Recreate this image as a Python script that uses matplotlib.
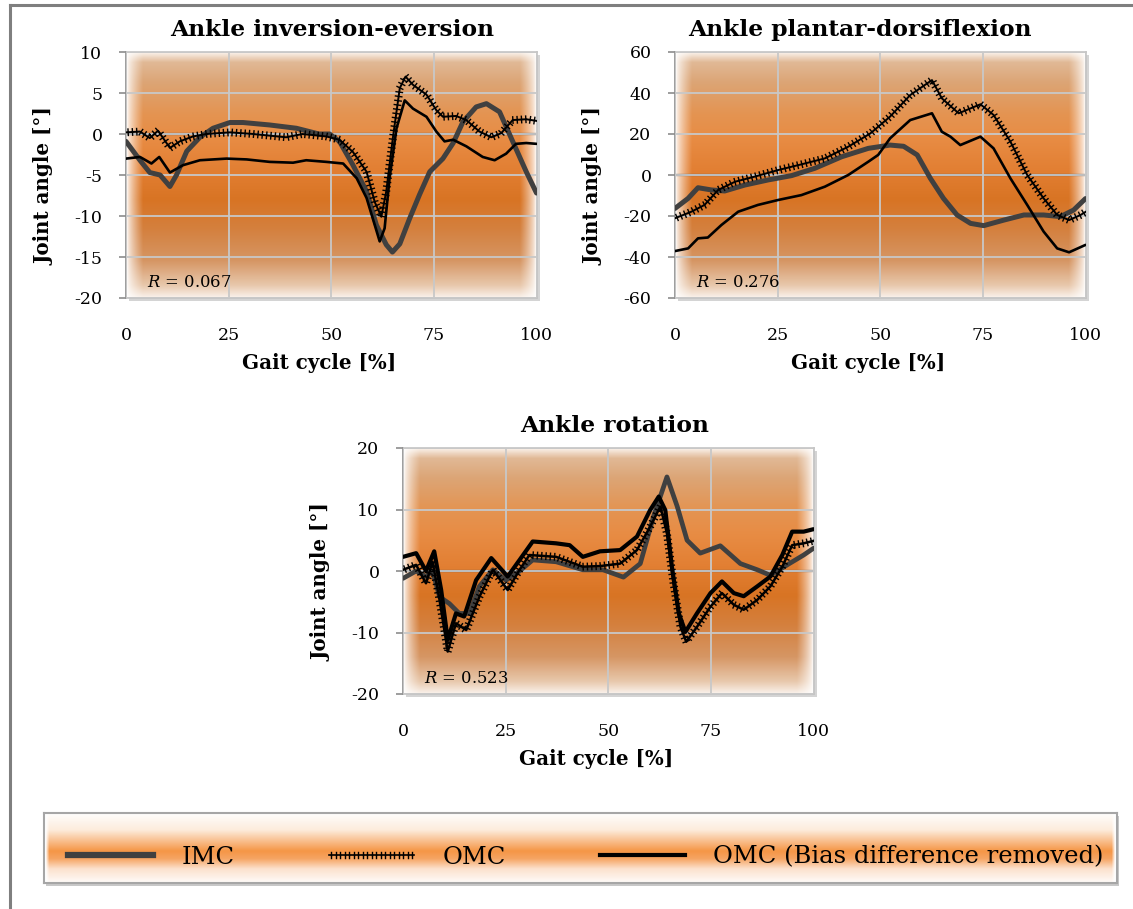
import numpy as np
import matplotlib
matplotlib.use("Agg")
import matplotlib.pyplot as plt
import matplotlib.patheffects as pe
from matplotlib.lines import Line2D
from matplotlib.patches import Rectangle

plt.rcParams["font.family"] = "DejaVu Serif"
plt.rcParams["mathtext.fontset"] = "dejavuserif"
plt.rcParams["axes.unicode_minus"] = False

# ---------------- dados ---------------- #

# Ankle inversion-eversion
inv_imc_x = [0, 3.4, 5.8, 8.3, 10.7, 12.3, 14.8, 18, 21.2, 25.3, 28.5, 35, 41.5, 47, 49.6, 52, 55.3, 58.6, 61,
             63.4, 64.9, 66.7, 69.1, 71.5, 74, 77.2, 79.7, 82.1, 85.3, 87.8, 91, 94.2, 97.5, 100]
inv_imc = [-0.9, -3.2, -4.7, -5.0, -6.4, -5.0, -2.1, -0.4, 0.7, 1.4, 1.4, 1.1, 0.7, 0.0, 0.0, -0.9, -3.8, -7.0,
           -11.1, -13.5, -14.4, -13.4, -10.3, -7.4, -4.6, -3.0, -1.1, 1.5, 3.3, 3.7, 2.7, -0.9, -4.6, -7.2]
inv_omc_x = [0, 3.4, 5.8, 7.8, 10.7, 13.1, 16.3, 19.6, 25.3, 31, 39, 43, 48.8, 52, 55.3, 58.6, 60.6, 62.2, 63.4,
             65, 66.7, 68.1, 69.9, 73.2, 75.6, 77.2, 80.4, 82.9, 86.1, 89, 91.4, 94.2, 97.5, 100]
inv_omc = [0.2, 0.3, -0.5, 0.4, -1.7, -0.9, -0.3, 0.0, 0.2, 0.0, -0.4, 0.0, -0.3, -0.7, -2.2, -4.6, -8.3, -10.1,
           -7.0, -0.5, 5.6, 7.0, 6.0, 4.8, 2.9, 2.1, 2.2, 1.7, 0.3, -0.4, 0.1, 1.7, 1.8, 1.6]
inv_bias_x = [0, 3.4, 6.2, 8.1, 10.7, 13.9, 18, 24.5, 29.4, 35, 40.7, 43.9, 48.8, 52.9, 56.2, 58.6, 60.6, 61.8,
              63, 64.2, 65.9, 67.9, 69.9, 73.2, 75.6, 77.6, 79.7, 82.9, 86.9, 89.8, 92.6, 95, 97.5, 100]
inv_bias = [-3.0, -2.8, -3.6, -2.8, -4.7, -3.8, -3.2, -3.0, -3.1, -3.4, -3.5, -3.2, -3.4, -3.6, -5.4, -7.8,
            -11.1, -13.1, -11.5, -5.4, 0.7, 4.1, 3.1, 2.1, 0.3, -0.9, -0.7, -1.5, -2.8, -3.2, -2.4, -1.2, -1.1, -1.2]

# Ankle plantar-dorsiflexion
pd_imc_x = [0, 3.2, 5.6, 8.9, 12.1, 17, 22.7, 28.4, 34.1, 40.6, 47.1, 52.4, 55.7, 59, 62.2, 65.4, 68.7, 72,
            75.2, 80.1, 85, 89.8, 93.9, 97.1, 100]
pd_imc = [-16.3, -11.4, -6.2, -7.3, -7.8, -4.9, -2.4, -0.3, 3.3, 8.9, 13.0, 14.6, 14.0, 9.8, -1.6, -11.4,
          -19.5, -23.6, -24.7, -22.0, -19.5, -19.5, -20.3, -17.1, -11.5]
pd_omc_x = [0, 4, 7.2, 10.5, 14.6, 19.4, 25.1, 30.8, 36.5, 42.2, 47.6, 52.4, 57.3, 62.6, 65, 69.1, 72, 74.4,
            77.6, 81.7, 85.8, 89.8, 93.1, 96, 98.8, 100]
pd_omc = [-21.1, -17.9, -14.6, -7.3, -3.3, -0.8, 2.4, 5.2, 8.1, 13.8, 20.3, 28.5, 39.0, 46.3, 37.4, 30.1, 32.5,
          34.5, 29.3, 16.3, 0.0, -11.4, -19.5, -22.0, -19.5, -18.0]
pd_bias_x = [0, 3.2, 5.6, 8, 11.3, 15.4, 20.2, 25.1, 30.8, 36.5, 42.2, 47.1, 49.5, 52.4, 57.3, 62.6, 65, 67.1,
             69.5, 74.4, 77.6, 81.7, 85.8, 89.8, 93.1, 96, 100]
pd_bias = [-37.1, -35.8, -30.9, -30.5, -24.4, -17.9, -14.6, -12.2, -9.8, -5.7, 0.0, 6.5, 9.8, 17.9, 26.8, 30.1,
           21.1, 18.7, 14.6, 18.7, 13.0, -1.6, -14.6, -27.6, -35.8, -37.7, -34.1]

# Ankle rotation
rot_imc_x = [0, 3.2, 5.6, 7.2, 8.9, 11.3, 13.7, 16.2, 18.6, 21.9, 25.1, 28.4, 31.6, 37.3, 43.8, 48.7, 53.7,
             57.8, 61, 64.3, 66.8, 69.2, 72.4, 77.3, 82.2, 86.3, 89.5, 93.6, 97.6, 100]
rot_imc = [-1.2, 0.0, -0.9, 0.0, -4.2, -5.3, -6.9, -6.9, -2.5, 0.2, -1.5, 0.0, 1.8, 1.5, 0.2, 0.2, -1.0, 1.2,
           8.8, 15.3, 10.5, 5.0, 2.9, 4.1, 1.2, 0.2, -0.7, 1.0, 2.6, 3.7]
rot_omc_x = [0, 3.2, 5.6, 7.2, 8.9, 10.9, 12.9, 15.4, 18.6, 21.9, 25.5, 28.4, 30.8, 37.3, 43.8, 48, 52.9, 57,
             60.2, 62.7, 64.3, 65.9, 67.6, 69, 71.6, 74.9, 77.7, 80.6, 83, 86.3, 89.5, 92.4, 94.8, 97.6, 100]
rot_omc = [0.2, 1.0, -2.0, 1.5, -4.7, -13.1, -8.5, -9.6, -4.2, 0.2, -3.1, 0.2, 2.6, 2.3, 0.7, 0.8, 1.2, 3.4,
           7.2, 10.5, 6.1, -2.0, -9.1, -11.5, -9.1, -5.8, -3.6, -5.5, -6.3, -4.7, -2.5, 0.7, 4.2, 4.5, 4.9]
rot_bias_x = [0, 3.2, 5.6, 7.6, 9.3, 10.9, 12.9, 14.9, 17.8, 21.5, 25.5, 28.4, 31.6, 37.3, 40.6, 43.8, 48,
              52.9, 57, 60.2, 62.3, 63.9, 65.5, 67.2, 68.8, 71.6, 74.9, 77.7, 80.6, 83, 86.3, 89.5, 92.4, 94.8,
              97.6, 100]
rot_bias = [2.3, 2.9, 0.0, 3.2, -3.1, -11.2, -6.9, -7.4, -1.5, 2.1, -0.9, 1.8, 4.8, 4.5, 4.2, 2.3, 3.2, 3.4,
            5.6, 9.9, 12.1, 9.9, 0.7, -6.9, -9.9, -6.9, -3.6, -1.7, -3.6, -4.1, -2.5, -0.9, 2.6, 6.4, 6.4, 6.8]

titles = ["Ankle inversion-eversion", "Ankle plantar-dorsiflexion", "Ankle rotation"]
r_values = ["0.067", "0.276", "0.523"]
y_limits = [(-20, 10), (-60, 60), (-20, 20)]
y_steps = [5, 20, 10]
x_ticks = [0, 25, 50, 75, 100]
legend_labels = ["IMC", "OMC", "OMC (Bias difference removed)"]

W, H = 1133, 909


def fx(px):
    return px / W


def fy(py):
    return 1 - py / H


def gradient(ax, extent, t_stops, rgb_stops, edge=0.04):
    # fundo laranja do Excel: degradê vertical + bordas laterais esbranquiçadas
    t = np.linspace(0, 1, 300)
    rgb = np.array(rgb_stops) / 255
    cols = np.stack([np.interp(t, t_stops, rgb[:, k]) for k in range(3)], -1)
    xs = np.linspace(0, 1, 300)
    fade = np.clip(np.minimum(xs / edge, (1 - xs) / edge), 0, 1) ** 0.7
    img = 1 - (1 - cols[:, None, :]) * fade[None, :, None]
    ax.imshow(img, extent=extent, origin="upper", aspect="auto", zorder=0, interpolation="bilinear")


def ticked(lw):
    # linha com "+" ao longo do traço (marcadores do Excel)
    return [pe.Normal(),
            pe.TickedStroke(spacing=3.1, angle=90, length=0.75, linewidth=lw),
            pe.TickedStroke(spacing=3.1, angle=-90, length=0.75, linewidth=lw)]


plot_t = [0.0, 0.04, 0.12, 0.25, 0.35, 0.5, 0.6, 0.72, 0.85, 0.95, 1.0]
plot_rgb = [(250, 242, 235), (225, 185, 150), (220, 165, 118), (228, 148, 82), (232, 140, 68),
            (225, 125, 48), (216, 116, 36), (212, 128, 62), (214, 150, 100), (232, 200, 172), (250, 242, 236)]

fig = plt.figure(figsize=(W / 100, H / 100), dpi=100)

# moldura externa
fig.add_artist(Line2D([fx(9.5), fx(9.5)], [fy(4.5), 0], transform=fig.transFigure, color="#7f7f7f", lw=2.2))
fig.add_artist(Line2D([fx(9.5), 1], [fy(4.5), fy(4.5)], transform=fig.transFigure, color="#7f7f7f", lw=2.2))

boxes = [(126, 52), (675, 52), (403, 448)]
title_x = [332, 860, 615]
series = [
    (inv_imc_x, inv_imc, inv_omc_x, inv_omc, inv_bias_x, inv_bias),
    (pd_imc_x, pd_imc, pd_omc_x, pd_omc, pd_bias_x, pd_bias),
    (rot_imc_x, rot_imc, rot_omc_x, rot_omc, rot_bias_x, rot_bias),
]
widths = [(3.6, 1.4, 1.9), (3.6, 1.4, 1.9), (3.4, 1.8, 3.0)]

for i in range(3):
    left, top = boxes[i]
    pos = [fx(left), fy(top + 246), fx(410.5), 246 / H]
    # sombra da area de plotagem
    fig.add_artist(Rectangle((fx(left + 3), fy(top + 249)), fx(410.5), 246 / H, transform=fig.transFigure,
                             facecolor="#d4d4d4", edgecolor="none", zorder=-1))
    ax = fig.add_axes(pos)
    ymin, ymax = y_limits[i]
    gradient(ax, (0, 100, ymin, ymax), plot_t, plot_rgb)
    ax.set_xlim(0, 100)
    ax.set_ylim(ymin, ymax)
    ax.set_xticks(x_ticks)
    ax.set_yticks(np.arange(ymin, ymax + 1, y_steps[i]))
    ax.grid(True, color="#c8c8c8", lw=1.3, zorder=1)
    ax.set_axisbelow(False)
    ax.axhline(0, color="#595959", lw=1.6, zorder=2)
    for s in ["top", "right", "bottom"]:
        ax.spines[s].set_color("#c4c4c4")
        ax.spines[s].set_linewidth(1.2)
    ax.spines["left"].set_color("#8c8c8c")
    ax.spines["left"].set_linewidth(1.2)
    ax.tick_params(axis="y", direction="out", length=5, width=1.2, color="#8c8c8c", pad=12, labelsize=12.5)
    ax.tick_params(axis="x", length=0, pad=21, labelsize=12.5)

    xi, yi, xo, yo, xb, yb = series[i]
    w_imc, w_omc, w_bias = widths[i]
    ax.plot(xi, yi, color="#404040", lw=w_imc, solid_joinstyle="round", solid_capstyle="round", zorder=3)
    ax.plot(xo, yo, color="black", lw=w_omc, path_effects=ticked(1.0), zorder=4)
    ax.plot(xb, yb, color="black", lw=w_bias, solid_joinstyle="round", solid_capstyle="round", zorder=5)

    ax.text(0.05, 0.045, r"$R$ = " + r_values[i], transform=ax.transAxes, fontsize=11.8, zorder=6)
    ax.set_ylabel("Joint angle [°]", fontsize=14.3, fontweight="bold")
    ax.yaxis.set_label_coords(-0.175, 0.455)
    ax.set_xlabel("Gait cycle [%]", fontsize=14.3, fontweight="bold")
    ax.xaxis.set_label_coords(0.47, -0.224)
    fig.text(fx(title_x[i]), fy(top - 22), titles[i], ha="center", va="center", fontsize=16.8,
             fontweight="bold")

# legenda com fundo em degradê
lax = fig.add_axes([fx(44), fy(883), fx(1073), 70 / H])
fig.add_artist(Rectangle((fx(46), fy(886)), fx(1073), 70 / H, transform=fig.transFigure,
                         facecolor="#c8c8c8", edgecolor="none", zorder=-1))
gradient(lax, (0, 1, 0, 1), [0.0, 0.25, 0.55, 0.66, 0.8, 1.0],
         [(255, 255, 255), (253, 236, 220), (245, 150, 70), (246, 165, 100), (252, 225, 205), (255, 252, 250)],
         edge=0.0001)
lax.set_xlim(0, 1)
lax.set_ylim(0, 1)
lax.set_xticks([])
lax.set_yticks([])
for s in lax.spines.values():
    s.set_color("#a6a6a6")
    s.set_linewidth(1.5)

handles = [Line2D([], [], color="#404040", lw=4.5),
           Line2D([], [], color="black", lw=1.2, path_effects=ticked(1.0)),
           Line2D([], [], color="black", lw=3.0)]
fig.legend(handles, legend_labels, loc="center", bbox_to_anchor=(fx(586), fy(857)), ncol=3, frameon=False,
           fontsize=17.5, handlelength=3.5, handletextpad=1.15, columnspacing=3.9)

fig.savefig("out.png", dpi=100)
